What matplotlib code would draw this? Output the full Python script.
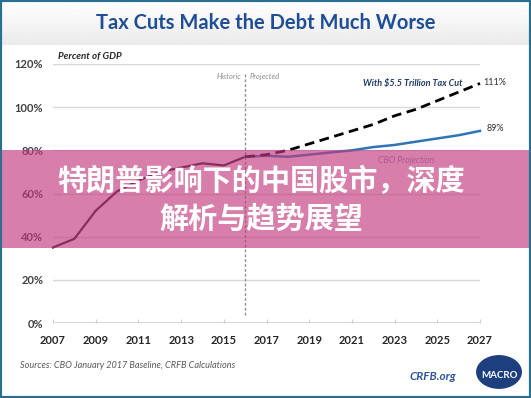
import numpy as np
import matplotlib.pyplot as plt
from matplotlib.patches import Rectangle, Circle

plt.rcParams['font.family'] = ['Lato', 'DejaVu Sans']

# data (percent of GDP)
hist_years = [2007, 2008, 2009, 2010, 2011, 2012, 2013, 2014, 2015, 2016]
hist_debt = [35, 39, 52, 61, 66, 70, 72, 74, 73, 77]
proj_years = [2016, 2017, 2018, 2019, 2020, 2021, 2022, 2023, 2024, 2025, 2026, 2027]
cbo_debt = [77, 77.5, 77, 78, 79, 80, 81.5, 82.5, 84, 85.5, 87, 89]
taxcut_debt = [77, 78, 80, 83, 86, 89, 92, 96, 99, 103, 107, 111]
xtick_years = [2007, 2009, 2011, 2013, 2015, 2017, 2019, 2021, 2023, 2025, 2027]
ytick_vals = [0, 20, 40, 60, 80, 100, 120]

W, H = 531, 398
fig = plt.figure(figsize=(W / 100, H / 100), dpi=100)


def fx(px):
    return px / W


def fy(py):
    return 1 - py / H


# title band with light gradient
band = fig.add_axes([0, fy(45), 1, 45 / H], zorder=-2)
grad = np.linspace(1.0, 0.92, 50).reshape(-1, 1)
band.imshow(np.repeat(grad, 2, axis=1), cmap='gray', vmin=0, vmax=1, aspect='auto')
band.axis('off')
fig.text(0.5, fy(23), 'Tax Cuts Make the Debt Much Worse', ha='center', va='center',
         fontsize=14.5, fontweight='bold', color='#1f4e96')

ax = fig.add_axes([fx(53), fy(323), fx(480) - fx(53), fy(64) - fy(323)])
ax.set_xlim(2007, 2027)
ax.set_ylim(0, 120)
for v in ytick_vals[1:]:
    ax.axhline(v, color='#d9d9d9', lw=1, zorder=1)
ax.axhline(0, color='#d0d0d0', lw=1.2, zorder=1)

ax.plot([2016, 2016], [3.5, 116], color='#909090', lw=1, ls=(0, (2, 1.5)), zorder=2)
ax.plot(hist_years, hist_debt, color='#241424', lw=1.6, zorder=3, clip_on=False)
ax.plot(proj_years, cbo_debt, color='#2e75b6', lw=1.8, zorder=3, clip_on=False)
ax.plot(proj_years, taxcut_debt, color='black', lw=2, ls=(0, (3.5, 2)), zorder=4, clip_on=False)

ax.set_xticks(xtick_years)
ax.set_xticklabels([str(y) for y in xtick_years], fontsize=8, fontweight='bold', color='#262626')
ax.set_yticks(ytick_vals)
ax.set_yticklabels([f'{v}%' for v in ytick_vals], fontsize=8, fontweight='bold', color='#404040')
ax.tick_params(axis='x', direction='in', length=3, color='#d0d0d0', pad=9)
ax.tick_params(axis='y', length=0, pad=7)
for s in ax.spines.values():
    s.set_visible(False)

ax.text(2027.15, taxcut_debt[-1] + 0.5, f'{taxcut_debt[-1]}%', fontsize=6.5, color='#303030', va='center', ha='left')
ax.text(2027.3, cbo_debt[-1] + 1, f'{cbo_debt[-1]}%', fontsize=6.5, color='#303030', va='center', ha='left')
ax.text(2021.5, 111, 'With $5.5 Trillion Tax Cut', fontsize=6.5, fontstyle='italic',
        fontweight='bold', color='#1f3864', va='center', ha='left')
ax.text(2022.2, 75.5, 'CBO Projection', fontsize=6.3, fontstyle='italic', color='#7f93b3',
        va='center', ha='left')
ax.text(2015.8, 114, 'Historic', fontsize=5.5, fontstyle='italic', color='#8c8c8c', va='center', ha='right')
ax.text(2016.2, 114, 'Projected', fontsize=5.5, fontstyle='italic', color='#8c8c8c', va='center', ha='left')

fig.text(fx(58), fy(57), 'Percent of GDP', fontsize=7, fontstyle='italic', fontweight='bold',
         color='#262626', va='center', ha='left')
fig.text(fx(20), fy(365), 'Sources: CBO January 2017 Baseline, CRFB Calculations', fontsize=6.6,
         fontstyle='italic', color='#595959', va='center', ha='left')
fig.text(fx(410), fy(377), 'CRFB.org', fontsize=8.5, fontstyle='italic', fontweight='bold',
         color='#2f5597', va='center', ha='left')

# logo watermark
fig.patches.append(Circle((fx(499), fy(372)), 24 / W, transform=fig.transFigure,
                          facecolor='#1e3f7e', edgecolor='white', lw=1.5, zorder=7))
fig.text(fx(499), fy(375), 'MACRO', fontsize=7, color='white', fontweight='bold',
         ha='center', va='center', zorder=8)

# pink banner over the chart
fig.patches.append(Rectangle((fx(2), fy(248)), fx(527), 98 / H, transform=fig.transFigure,
                             facecolor='#c4397e', alpha=0.65, edgecolor='none', zorder=5))
cjk = ['Noto Sans CJK SC', 'DejaVu Sans']
fig.text(fx(261), fy(181), '特朗普影响下的中国股市，深度', family=cjk, fontsize=21,
         fontweight=900, color='white', ha='center', va='center', zorder=6)
fig.text(fx(261), fy(219), '解析与趋势展望', family=cjk, fontsize=21,
         fontweight=900, color='white', ha='center', va='center', zorder=6)

# outer border
fig.patches.append(Rectangle((0, 0), 1, 1, transform=fig.transFigure, facecolor='none',
                             edgecolor='#2b6f8e', lw=3, zorder=9))

fig.savefig('out.png', dpi=100)
